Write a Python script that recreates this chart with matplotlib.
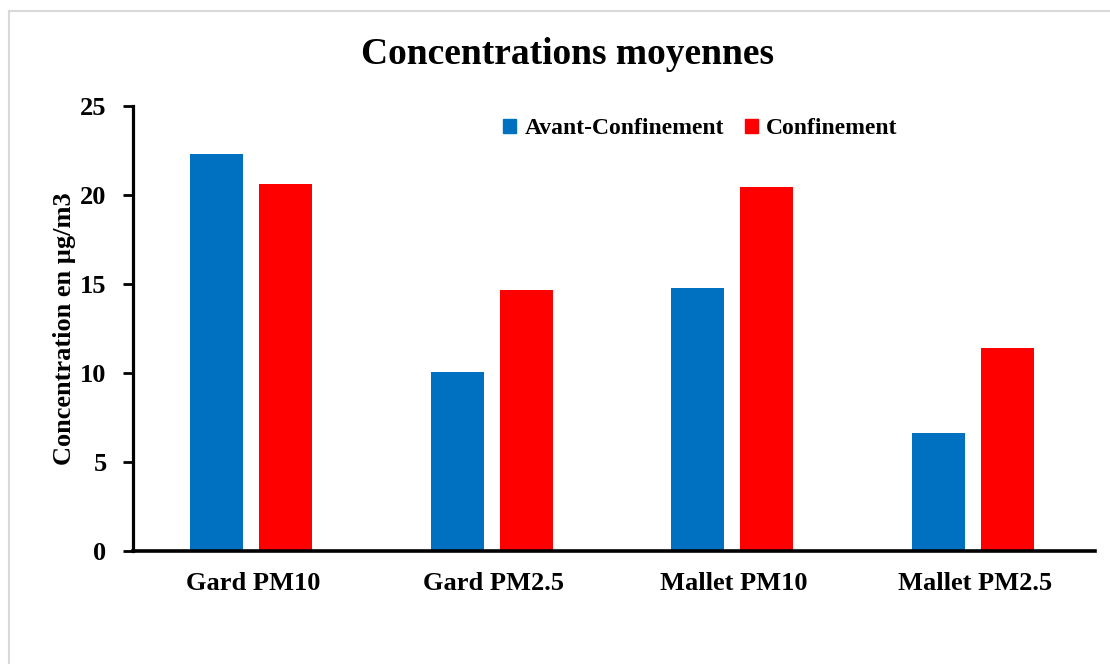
import matplotlib
matplotlib.use("Agg")
import matplotlib.pyplot as plt
from matplotlib.lines import Line2D
from matplotlib.patches import Patch
import numpy as np

# Data
categories = ["Gard PM10", "Gard PM2.5", "Mallet PM10", "Mallet PM2.5"]
avant = [22.3, 10.05, 14.75, 6.6]
confinement = [20.6, 14.65, 20.45, 11.4]
series_names = ["Avant-Confinement", "Confinement"]
yticks = [0, 5, 10, 15, 20, 25]

blue = "#0070C0"
red = "#FF0000"

plt.rcParams['font.family'] = ['Liberation Serif', 'DejaVu Serif']
plt.rcParams['font.weight'] = 'bold'

W, H = 1110, 664
fig = plt.figure(figsize=(W / 100, H / 100), dpi=100)
ax = fig.add_axes([133 / W, (H - 551) / H, (1095 - 133) / W, (551 - 105.7) / H])

x = np.arange(len(categories))
bw = 0.22
off = 0.143
ax.bar(x - off - 0.008, avant, bw, color=blue)
ax.bar(x + off - 0.008, confinement, bw, color=red)

ax.set_xlim(-0.5, len(categories) - 0.5)
ax.set_ylim(0, 25)
ax.set_yticks(yticks)
ax.set_xticks(x)
ax.set_xticklabels(categories, fontsize=19, fontweight='bold')
ax.set_yticklabels([str(t) for t in yticks], fontsize=19, fontweight='bold')
ax.tick_params(axis='x', length=0, pad=15)
ax.tick_params(axis='y', direction='out', length=7, width=2, pad=12)

for s in ['top', 'right']:
    ax.spines[s].set_visible(False)
ax.spines['left'].set_linewidth(2.3)
ax.spines['bottom'].set_linewidth(2.6)

ax.set_ylabel("Concentration en µg/m3", fontsize=19, fontweight='bold', labelpad=3)

fig.text(0.511, 1 - 55 / H, "Concentrations moyennes", ha='center', va='center',
         fontsize=27, fontweight='bold')

handles = [Patch(color=blue), Patch(color=red)]
fig.legend(handles, series_names, loc='center', bbox_to_anchor=(0.631, 1 - 129 / H),
           ncol=2, frameon=False, prop={'size': 17, 'weight': 'bold'},
           handlelength=0.55, handleheight=0.55, handletextpad=0.35, columnspacing=0.9)

# light grey chart-area border (left and top)
fig.add_artist(Line2D([9 / W, 9 / W], [0, 1 - 11 / H], color="#d9d9d9", lw=1.5,
                      transform=fig.transFigure))
fig.add_artist(Line2D([9 / W, 1], [1 - 11 / H, 1 - 11 / H], color="#d9d9d9", lw=1.5,
                      transform=fig.transFigure))

fig.savefig("out.png", dpi=100, facecolor='white')
